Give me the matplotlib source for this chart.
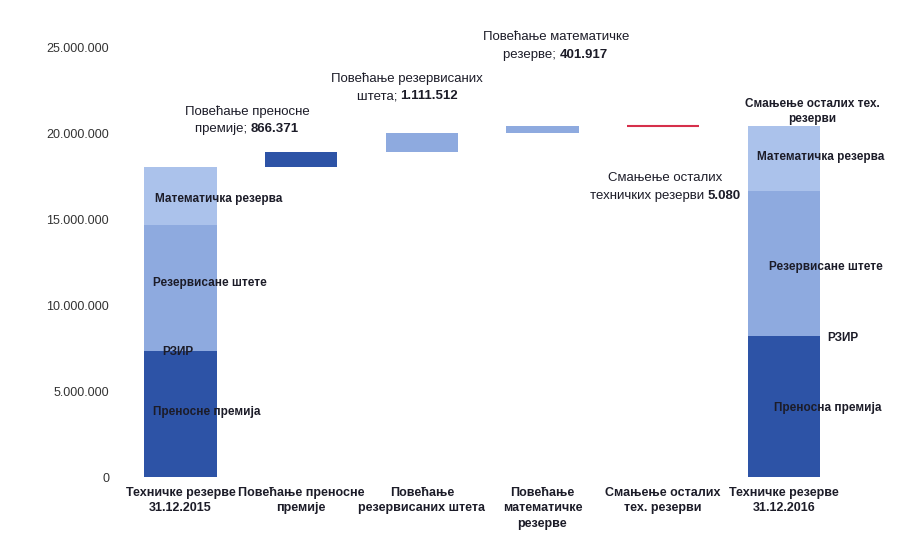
import matplotlib
matplotlib.use('Agg')
import matplotlib.pyplot as plt
from matplotlib.offsetbox import TextArea, HPacker, VPacker, AnnotationBbox
import numpy as np

plt.rcParams['font.family'] = ['Liberation Sans', 'DejaVu Sans']

# категорије на x оси
categories = ['Техничке резерве\n31.12.2015', 'Повећање преносне\nпремије',
              'Повећање\nрезервисаних штета', 'Повећање\nматематичке\nрезерве',
              'Смањење осталих\nтех. резерви', 'Техничке резерве\n31.12.2016']

# стање 31.12.2015 по врстама резерви
start_pp = 7250000      # преносна премија
start_rzir = 100000     # РЗИР
start_rs = 7350000      # резервисане штете
start_mr = 3340000      # математичка резерва
start_other = 50000     # остале техничке резерве

# промене током године
changes = [866371, 1111512, 401917, -5080]
change_names = ['Повећање преносне\nпремије; ', 'Повећање резервисаних\nштета; ',
                'Повећање математичке\nрезерве; ', 'Смањење осталих\nтехничких резерви ']
change_values = ['866.371', '1.111.512', '401.917', '5.080']

yticks = [0, 5000000, 10000000, 15000000, 20000000, 25000000]

dark = '#2d53a6'
mid = '#8eaadf'
light = '#abc2eb'
red = '#d62f4b'
txt = '#1c1c28'

end_pp = start_pp + changes[0]
end_rs = start_rs + changes[1]
end_mr = start_mr + changes[2]
end_other = start_other + changes[3]

fig = plt.figure(figsize=(8.97, 5.33), dpi=100)
ax = fig.add_axes([0.134, 0.105, 0.807, 0.805])

w = 0.6
# почетни и крајњи стубац
segs0 = [start_pp, start_rzir, start_rs, start_mr + start_other]
segs1 = [end_pp, start_rzir, end_rs, end_mr + end_other]
cols = [dark, dark, mid, light]
bottom = 0
for v, c in zip(segs0, cols):
    ax.bar(0, v, w, bottom=bottom, color=c, linewidth=0)
    bottom += v
bottom = 0
for v, c in zip(segs1, cols):
    ax.bar(5, v, w, bottom=bottom, color=c, linewidth=0)
    bottom += v

# кораци водопада
level = sum(segs0)
step_cols = [dark, mid, mid, red]
for i, (d, c) in enumerate(zip(changes, step_cols)):
    if d >= 0:
        ax.bar(i + 1, d, w, bottom=level, color=c, linewidth=0)
    else:
        ax.bar(i + 1, -d, w, bottom=level + d, color=c, edgecolor=c, linewidth=1.5)
    level += d

ax.set_xlim(-0.5, 5.5)
ax.set_ylim(0, 25000000)
ax.set_yticks(yticks)
ax.set_yticklabels([f'{v:,}'.replace(',', '.') for v in yticks], fontsize=9, color='#333333')
ax.set_xticks(range(len(categories)))
ax.set_xticklabels(categories, fontsize=9, fontweight='bold', color=txt, linespacing=1.4)
ax.tick_params(axis='y', length=0, pad=8)
ax.tick_params(axis='x', length=0, pad=7)
for s in ax.spines.values():
    s.set_visible(False)


def mixed_label(x, y, name, val):
    # прва линија обична, друга линија: текст + подебљан износ
    l1, l2 = name.split('\n')
    fs = 9.5
    a = TextArea(l1, textprops=dict(fontsize=fs, color=txt))
    b = TextArea(l2, textprops=dict(fontsize=fs, color=txt))
    c = TextArea(val, textprops=dict(fontsize=fs, color=txt, fontweight='bold'))
    row = HPacker(children=[b, c], align='baseline', pad=0, sep=0)
    box = VPacker(children=[a, row], align='center', pad=0, sep=4)
    ab = AnnotationBbox(box, (x, y), xycoords='data', frameon=False,
                        box_alignment=(0.5, 0.5), pad=0, annotation_clip=False)
    ax.add_artist(ab)


ann_pos = [(0.55, 20800000), (1.88, 22700000), (3.11, 25100000), (4.02, 16900000)]
for (x, y), n, v in zip(ann_pos, change_names, change_values):
    mixed_label(x, y, n, v)

ax.text(5.24, 21300000, 'Смањење осталих тех.\nрезерви', ha='center', va='center',
        fontsize=8.5, fontweight='bold', color=txt, linespacing=1.4)

lab = dict(fontsize=8.5, fontweight='bold', color=txt, va='center', ha='left')
ax.text(-0.21, 16200000, 'Математичка резерва', **lab)
ax.text(-0.23, 11300000, 'Резервисане штете', **lab)
ax.text(-0.15, 7280000, 'РЗИР', **lab)
ax.text(-0.23, 3790000, 'Преносне премија', **lab)
ax.text(4.78, 18650000, 'Математичка резерва', **lab)
ax.text(4.88, 12240000, 'Резервисане штете', **lab)
ax.text(5.36, 8100000, 'РЗИР', **lab)
ax.text(4.92, 4020000, 'Преносна премија', **lab)

fig.savefig('out.png', dpi=100)
